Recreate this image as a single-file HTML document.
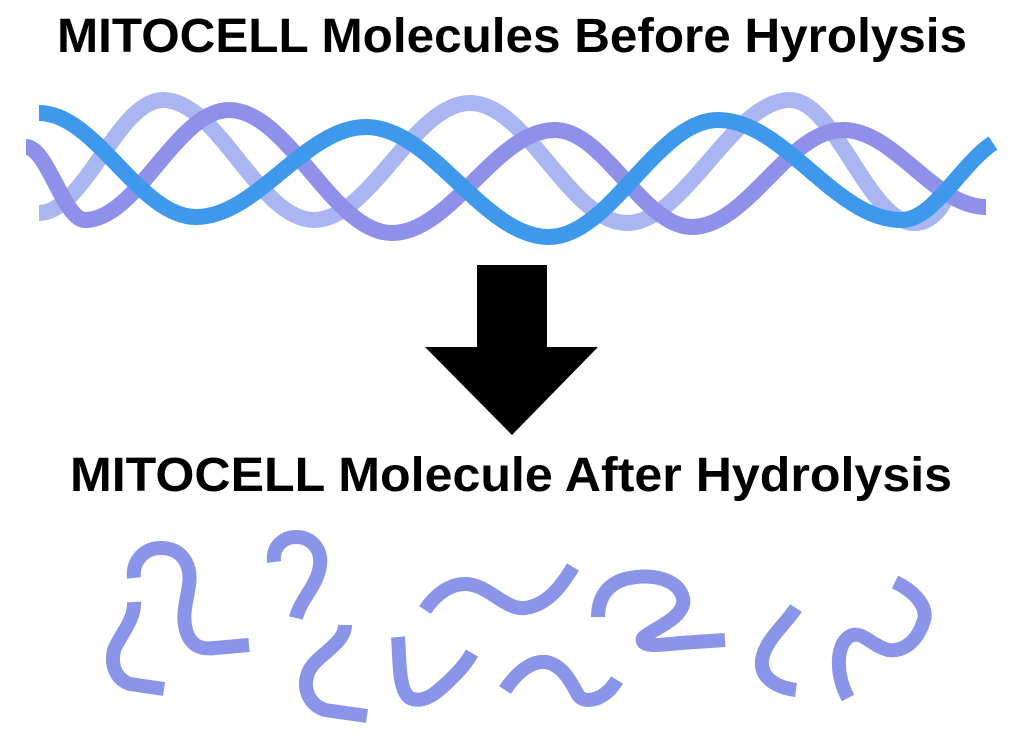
<!DOCTYPE html>
<html><head><meta charset="utf-8"><style>
html,body{margin:0;padding:0;background:#fff;}
svg{display:block;}
text{font-family:"Liberation Sans",sans-serif;font-weight:bold;fill:#000;}
</style></head><body>
<svg width="1024" height="738" viewBox="0 0 1024 738" xmlns="http://www.w3.org/2000/svg">
<text x="57" y="52" font-size="48" textLength="910" lengthAdjust="spacingAndGlyphs">MITOCELL Molecules Before Hyrolysis</text>
<text x="70" y="491" font-size="48" textLength="882" lengthAdjust="spacingAndGlyphs">MITOCELL Molecule After Hydrolysis</text>

<g fill="none" stroke-linecap="butt" stroke-width="16">
<!-- light strand -->
<path stroke="#a9b6f1" d="M39 213 C84 213,118 100,163 100 C218 100,259 220,314 220 C370 220,414 103,470 103 C527 103,570 223,627 223 C684 223,733 100,790 100 C835 100,869 223,914 223 C930 223,940 210,945 200"/>
<!-- purple strand -->
<path stroke="#8f90e9" d="M26 147 C47 147,64 220,85 220 C137 220,177 110,229 110 C288 110,333 233,392 233 C451 233,496 130,555 130 C604 130,643 227,692 227 C747 227,788 130,843 130 C895 130,934 207,986 207"/>
<!-- blue strand -->
<path stroke="#3e98ec" d="M39 113 C96 113,139 217,196 217 C257 217,305 127,366 127 C432 127,483 237,549 237 C610 237,657 120,718 120 C784 120,835 220,901 220 C934 220,960 165,993 143"/>
</g>

<path fill="#000" d="M477 265 H547 V347 H598 L512 435 L425 347 H477 Z"/>

<g fill="none" stroke="#8a95ea" stroke-width="14" stroke-linecap="butt" stroke-linejoin="round">
<path d="M134 578 C132 560,145 548,161 548 C182 548,192 565,189 585 C186 605,182 615,186 630 C190 645,200 650,215 648 L249 645"/>
<path d="M134 602 C135 620,120 635,114 650 C110 668,118 680,130 684 L164 689"/>
<path d="M274 562 C272 545,285 537,296 537 C312 537,322 550,320 565 C318 585,300 600,296 618"/>
<path d="M345 625 C345 645,315 655,308 673 C302 690,310 705,325 710 L367 716"/>
<path d="M398 637 C400 660,398 690,410 698 C425 705,440 690,455 675 C462 668,468 660,472 653"/>
<path d="M425 610 C435 595,450 583,467 584 C490 586,505 610,525 608 C548 605,562 585,573 567"/>
<path d="M505 690 C515 675,530 660,546 662 C562 665,570 680,578 695 C585 705,605 700,617 680"/>
<path d="M598 617 C598 600,605 585,625 579 C650 573,678 578,683 598 C687 618,650 630,643 638 C640 648,660 645,680 643 L725 640"/>
<path d="M796 608 C785 625,765 640,762 660 C760 680,780 688,796 690"/>
<path d="M895 582 C912 590,928 605,924 620 C918 640,905 652,888 650 C872 646,862 630,850 636 C835 645,836 675,848 698"/>
</g>
</svg>
</body></html>
